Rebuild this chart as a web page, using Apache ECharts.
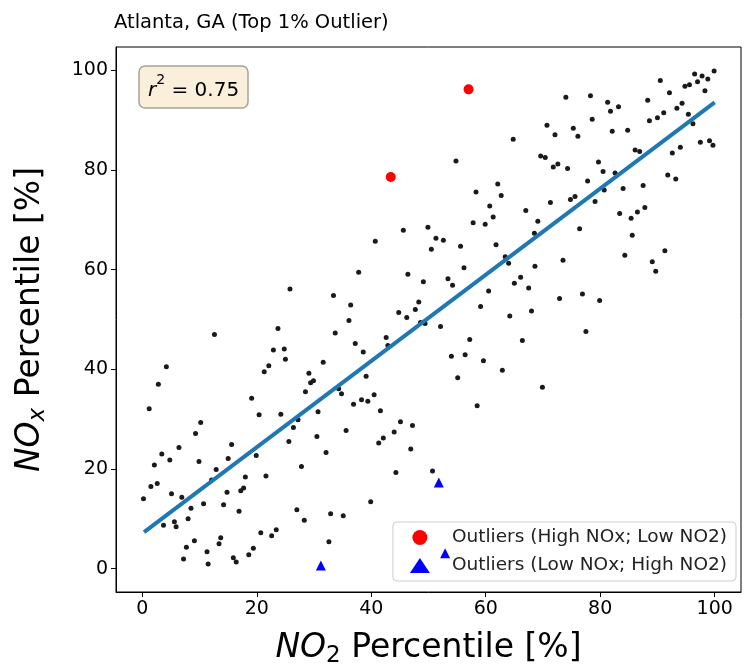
<!DOCTYPE html>
<html>
<head>
<meta charset="utf-8">
<script src="https://cdn.jsdelivr.net/npm/echarts@6/dist/echarts.min.js"></script>
<style>
  html, body { margin: 0; padding: 0; background: #fff; }
  #chart { width: 745px; height: 665px; }
</style>
</head>
<body>
<div id="chart"></div>
<script>
// NO2 percentile vs NOx percentile, [x, y]
const inliers = [
  [64.8,86.2],[54.8,81.8],[62.1,77.2],[58.3,75.6],[62.7,74.9],[60.7,72.8],[67.0,71.9],[61.3,70.6],[57.8,69.4],[59.9,69.1],[49.9,68.5],[45.6,67.9],
  [74.0,94.6],[78.3,94.9],[70.7,89.0],[72.1,87.1],[78.6,90.2],[81.3,93.6],[81.8,91.8],[83.2,92.7],[75.3,88.4],[76.1,86.8],[82.1,87.8],[84.8,88.0],
  [88.3,94.0],[90.5,98.0],[92.1,95.5],[88.6,89.9],[90.0,90.5],[91.1,91.5],[93.4,92.4],[94.3,93.4],[94.8,96.8],[95.6,97.1],[96.5,99.3],[97.0,97.7],
  [97.8,98.9],[98.8,98.3],[99.9,99.9],[98.3,95.9],[95.4,91.2],[96.2,89.3],[86.1,84.0],[86.9,83.7],[92.6,83.4],[94.0,84.6],[97.5,85.6],[99.1,85.9],
  [99.7,85.0],[69.6,82.8],[70.4,82.5],[71.8,80.6],[72.6,81.2],[74.3,80.3],[79.7,81.6],[80.5,79.7],[82.6,79.4],[77.8,77.8],[80.7,76.0],[84.0,76.3],
  [87.5,76.9],[91.8,79.0],[93.2,78.2],[71.3,73.5],[74.8,74.1],[75.6,74.7],[79.1,73.7],[83.4,71.3],[85.4,70.3],[86.5,71.6],[87.8,72.5],[69.1,69.7],
  [76.4,68.2],
  [85.6,66.9],[68.5,67.3],[84.3,62.9],[91.3,63.8],[89.1,61.6],[89.7,59.7],[73.5,61.9],[68.6,60.7],[72.9,54.2],[76.9,55.1],[79.9,53.8],[77.5,47.6],
  [69.9,36.4],[68.0,51.7],
  [40.7,65.7],[51.3,66.3],[52.6,65.9],[50.5,64.1],[55.6,64.7],[61.8,65.0],[63.4,62.6],[64.0,61.3],[56.2,60.4],[37.8,59.5],[46.4,59.1],[53.4,58.2],
  [54.2,56.9],[49.1,57.6],[66.1,58.5],[65.0,57.3],[67.5,56.3],[60.5,55.7],[33.4,54.8],[36.4,52.9],[48.3,53.5],[47.7,52.0],[44.8,51.4],[46.2,50.4],
  [59.1,52.6],[64.2,50.7],[36.1,49.8],[48.6,49.4],[49.4,49.2],[52.1,48.6],[33.7,47.3],[42.6,46.4],[42.9,44.8],[37.2,45.2],[38.6,43.5],[57.2,46.0],
  [66.4,45.8],[54.0,42.6],[56.4,42.9],[59.6,41.7],[62.9,39.8],[55.1,38.3],[39.1,38.6],[31.6,41.4],[34.3,36.1],[34.8,35.1],[36.9,33.0],[38.3,33.9],
  [39.4,33.6],[40.5,34.9],[41.6,31.7],[58.5,32.7],
  [25.8,56.1],[12.6,47.0],[23.7,48.2],[22.9,43.9],[24.8,44.1],[25.0,42.0],[22.1,40.7],[21.3,39.5],[29.1,39.2],[29.4,37.3],[29.9,37.7],[28.5,35.5],
  [30.7,31.5],[4.2,40.5],[2.8,37.0],[1.2,32.1],[19.1,34.2],[20.4,30.9],[24.2,31.0],
  [10.2,29.3],[9.3,27.1],[6.4,24.3],[3.4,23.0],[4.8,21.8],[2.1,20.8],[9.9,21.5],[15.6,24.9],[15.0,22.1],[12.9,19.9],[12.1,17.8],[19.9,22.7],
  [25.6,25.5],[26.4,28.3],[27.2,29.9],[30.5,26.5],[32.1,23.3],[27.8,20.5],[21.6,18.6],[18.0,18.4],[17.7,16.2],[17.2,15.6],[14.8,15.3],[14.2,12.8],
  [16.9,11.5],[10.7,13.0],[8.5,12.1],[6.9,14.3],[5.1,15.0],[1.5,16.5],[2.6,17.1],[0.2,14.0],[8.0,10.0],[5.6,9.4],[5.9,8.4],[3.7,8.7],
  [27.0,11.8],[28.3,9.7],[13.7,6.2],[13.4,5.0],[9.1,5.6],[7.7,4.3],[7.2,1.9],[11.3,3.4],[11.5,0.9],[15.9,2.2],[16.4,1.3],[18.6,2.8],
  [19.4,4.1],[20.7,7.2],[22.6,6.6],[23.4,7.8],
  [35.6,27.7],[45.1,29.5],[47.2,28.7],[44.0,27.4],[42.1,26.2],[41.3,25.2],[46.9,24.0],[44.3,19.3],[50.7,19.6],[39.9,13.4],[32.9,11.0],[35.1,10.6],
  [32.6,5.4]
];
const highNoxOutliers = [[43.4,78.6],[57.0,96.2]];
const lowNoxOutliers = [[31.2,0.6],[51.8,17.3],[52.9,3.1]];
const fitLine = [[0.3,7.3],[100,93.6]];
const tickValues = [0, 20, 40, 60, 80, 100];
const rSquared = '0.75';

const chart = echarts.init(document.getElementById('chart'));
const font = 'DejaVu Sans';

const option = {
  animation: false,
  textStyle: { fontFamily: font },
  title: [
    {
      text: 'Atlanta, GA (Top 1% Outlier)',
      left: 109, top: 8,
      textStyle: { fontSize: 19.5, fontWeight: 'normal', color: '#000', fontFamily: font }
    },
    {
      text: '{r|r}{sup|2}{t| = ' + rSquared + '}',
      left: 139, top: 66,
      padding: [7, 9, 7, 9],
      backgroundColor: '#faefdb',
      borderColor: '#a8a298',
      borderWidth: 1.5,
      borderRadius: 6,
      textStyle: {
        fontWeight: 'normal',
        rich: {
          r: { fontSize: 20, fontStyle: 'italic', fontWeight: 'normal', color: '#000', fontFamily: font, lineHeight: 28, verticalAlign: 'bottom' },
          sup: { fontSize: 14, fontWeight: 'normal', color: '#000', fontFamily: font, lineHeight: 14, verticalAlign: 'top' },
          t: { fontSize: 20, fontWeight: 'normal', color: '#000', fontFamily: font, lineHeight: 28, verticalAlign: 'bottom' }
        }
      }
    }
  ],
  legend: {
    orient: 'vertical',
    right: 9, bottom: 84,
    padding: [6, 9, 6, 17],
    itemGap: 9,
    itemWidth: 20, itemHeight: 15,
    backgroundColor: 'rgba(255,255,255,0.8)',
    borderColor: '#cccccc',
    borderWidth: 1,
    borderRadius: 4,
    textStyle: { fontSize: 18.5, color: '#222', fontFamily: font, padding: [0, 0, 0, 17] },
    data: [
      { name: 'Outliers (High NOx; Low NO2)', icon: 'circle' },
      { name: 'Outliers (Low NOx; High NO2)', icon: 'triangle' }
    ]
  },
  grid: {
    left: 116, right: 4, top: 47, bottom: 73,
    outerBoundsMode: 'none', containLabel: false,
    show: true, borderColor: '#000', borderWidth: 1, backgroundColor: 'transparent'
  },
  xAxis: {
    type: 'value', min: -4.6, max: 104.6,
    name: '{i|NO}{s|2}{n| Percentile [%]}',
    nameLocation: 'middle', nameGap: 36,
    nameTextStyle: {
      rich: {
        i: { fontSize: 33, fontStyle: 'italic', color: '#000', fontFamily: font, lineHeight: 40, verticalAlign: 'middle' },
        s: { fontSize: 23, color: '#000', fontFamily: font, lineHeight: 23, verticalAlign: 'bottom' },
        n: { fontSize: 33, color: '#000', fontFamily: font, lineHeight: 40, verticalAlign: 'middle' }
      }
    },
    axisLine: { show: true, onZero: false, lineStyle: { color: '#000', width: 1 } },
    axisTick: { show: true, length: 5, customValues: tickValues, lineStyle: { color: '#000' } },
    axisLabel: { customValues: tickValues, fontSize: 19, color: '#000', margin: 8, fontFamily: font },
    splitLine: { show: false }
  },
  yAxis: {
    type: 'value', min: -4.7, max: 104.7,
    name: '{i|NO}{s|x}{n| Percentile [%]}',
    nameLocation: 'middle', nameGap: 66, nameRotate: 90,
    nameTextStyle: {
      rich: {
        i: { fontSize: 33, fontStyle: 'italic', color: '#000', fontFamily: font, lineHeight: 40, verticalAlign: 'middle' },
        s: { fontSize: 23, fontStyle: 'italic', color: '#000', fontFamily: font, lineHeight: 23, verticalAlign: 'bottom' },
        n: { fontSize: 33, color: '#000', fontFamily: font, lineHeight: 40, verticalAlign: 'middle' }
      }
    },
    axisLine: { show: true, onZero: false, lineStyle: { color: '#000', width: 1 } },
    axisTick: { show: true, length: 5, customValues: tickValues, lineStyle: { color: '#000' } },
    axisLabel: { customValues: tickValues, fontSize: 19, color: '#000', margin: 8, fontFamily: font },
    splitLine: { show: false }
  },
  series: [
    {
      name: 'inliers', type: 'scatter', data: inliers,
      symbol: 'circle', symbolSize: 5,
      itemStyle: { color: '#1a1a1a', opacity: 1 }, z: 2, silent: true
    },
    {
      name: 'fit', type: 'line', data: fitLine,
      symbol: 'none', lineStyle: { color: '#1f77b4', width: 4 }, z: 3, silent: true
    },
    {
      name: 'Outliers (High NOx; Low NO2)', type: 'scatter', data: highNoxOutliers,
      symbol: 'circle', symbolSize: 10, itemStyle: { color: '#ff0000', opacity: 1 }, z: 4
    },
    {
      name: 'Outliers (Low NOx; High NO2)', type: 'scatter', data: lowNoxOutliers,
      symbol: 'triangle', symbolSize: 10, itemStyle: { color: '#0000ff', opacity: 1 }, z: 4
    }
  ]
};

chart.setOption(option);
</script>
</body>
</html>
